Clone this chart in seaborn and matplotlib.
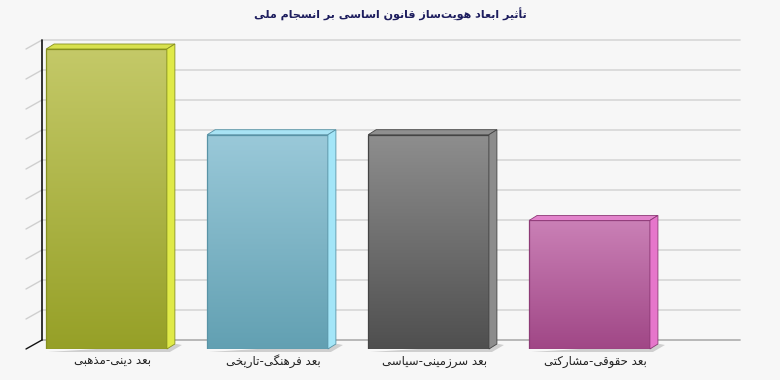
import numpy as np
import matplotlib
matplotlib.use("Agg")
import matplotlib.pyplot as plt
import seaborn as sns
from matplotlib import font_manager, ft2font
from matplotlib.colors import LinearSegmentedColormap
from matplotlib.patches import Polygon
from matplotlib.lines import Line2D
from matplotlib.transforms import IdentityTransform, ScaledTranslation

# ---------------- data ----------------
title = "تأثیر ابعاد هویت‌ساز قانون اساسی بر انسجام ملی"
categories = ["بعد دینی-مذهبی", "بعد فرهنگی-تاریخی", "بعد سرزمینی-سیاسی", "بعد حقوقی-مشارکتی"]
values = [35, 25, 25, 15]
y_max = 35
y_ticks = [i * 3.5 for i in range(11)]

front_top = ["#c4c968", "#9ac9d9", "#8e8e8e", "#ca80b6"]
front_bot = ["#96a027", "#62a0b2", "#4f4f4f", "#a04786"]
edge_cols = ["#86901f", "#5893a6", "#444444", "#8d3a76"]
side_cols = ["#e0ea48", "#a4e6f8", "#8c8c8c", "#e676cb"]
top_cols = ["#d8e14e", "#a8e3f4", "#8f8f8f", "#e283cb"]

# ---------------- minimal Arabic/Persian shaping ----------------
FORMS = {
    "\u0627": (0xFE8D, 0xFE8E), "\u0623": (0xFE83, 0xFE84),
    "\u0628": (0xFE8F, 0xFE90, 0xFE91, 0xFE92), "\u062A": (0xFE95, 0xFE96, 0xFE97, 0xFE98),
    "\u062B": (0xFE99, 0xFE9A, 0xFE9B, 0xFE9C), "\u062C": (0xFE9D, 0xFE9E, 0xFE9F, 0xFEA0),
    "\u062D": (0xFEA1, 0xFEA2, 0xFEA3, 0xFEA4), "\u062E": (0xFEA5, 0xFEA6, 0xFEA7, 0xFEA8),
    "\u062F": (0xFEA9, 0xFEAA), "\u0630": (0xFEAB, 0xFEAC), "\u0631": (0xFEAD, 0xFEAE),
    "\u0632": (0xFEAF, 0xFEB0), "\u0633": (0xFEB1, 0xFEB2, 0xFEB3, 0xFEB4),
    "\u0634": (0xFEB5, 0xFEB6, 0xFEB7, 0xFEB8), "\u0639": (0xFEC9, 0xFECA, 0xFECB, 0xFECC),
    "\u0641": (0xFED1, 0xFED2, 0xFED3, 0xFED4), "\u0642": (0xFED5, 0xFED6, 0xFED7, 0xFED8),
    "\u06A9": (0xFB8E, 0xFB8F, 0xFB90, 0xFB91), "\u06AF": (0xFB92, 0xFB93, 0xFB94, 0xFB95),
    "\u0644": (0xFEDD, 0xFEDE, 0xFEDF, 0xFEE0), "\u0645": (0xFEE1, 0xFEE2, 0xFEE3, 0xFEE4),
    "\u0646": (0xFEE5, 0xFEE6, 0xFEE7, 0xFEE8), "\u0647": (0xFEE9, 0xFEEA, 0xFEEB, 0xFEEC),
    "\u0648": (0xFEED, 0xFEEE), "\u06CC": (0xFBFC, 0xFBFD, 0xFBFE, 0xFBFF),
}
FALLBACK = {"\u06CC": (0xFEEF, 0xFEF0, 0xFEF3, 0xFEF4), "\u06A9": (0xFED9, 0xFEDA, 0xFEDB, 0xFEDC)}
LAM_ALEF = {"\u0627": (0xFEFB, 0xFEFC), "\u0623": (0xFEF7, 0xFEF8)}

def _charmap(bold):
    try:
        p = font_manager.findfont(font_manager.FontProperties(family="DejaVu Sans",
                                                               weight="bold" if bold else "normal"))
        return ft2font.FT2Font(p).get_charmap()
    except Exception:
        return {}

def shape(text, bold=False):
    cmap = _charmap(bold)
    forms = dict(FORMS)
    for k, v in FALLBACK.items():
        if cmap and any(c not in cmap for c in forms[k]):
            forms[k] = v
    out = []
    i, n = 0, len(text)
    while i < n:
        ch = text[i]
        prev = text[i - 1] if i > 0 else ""
        nxt = text[i + 1] if i + 1 < n else ""
        cp = prev in forms and len(forms[prev]) == 4
        if ch == "\u0644" and nxt in LAM_ALEF:
            out.append(chr(LAM_ALEF[nxt][1 if cp else 0]))
            i += 2
            continue
        if ch in forms:
            f = forms[ch]
            cn = len(f) == 4 and nxt in forms
            if cp and cn:
                g = f[3]
            elif cp:
                g = f[1]
            elif cn:
                g = f[2]
            else:
                g = f[0]
            out.append(chr(g))
        elif ch == "\u200c":
            pass
        else:
            out.append(ch)
        i += 1
    return "".join(reversed(out))

# ---------------- figure ----------------
sns.set_theme(style="white")
plt.rcParams["font.family"] = ["DejaVu Sans"]
bg = "#f7f7f7"
fig = plt.figure(figsize=(7.8, 3.8), dpi=100, facecolor=bg)
W, H = 780, 380
ax = fig.add_axes([26 / W, 31 / H, 698 / W, 300 / H])
ax.set_facecolor("none")

sns.barplot(x=categories, y=values, hue=categories, palette=front_top, legend=False,
            width=0.75, saturation=1, ax=ax)
xlim = (-0.5, 3.835)
ax.set_xlim(*xlim)
ax.set_ylim(0, y_max)
for s in ax.spines.values():
    s.set_visible(False)
ax.set_yticks([])
ax.set_xticks([])

WX, WY = 16, 9   # wall depth in pixels
BX, BY = 8, 5    # bar depth in pixels
T = ax.transData
ident = IdentityTransform()

def disp(x, y):
    return np.array(T.transform((x, y)))

def seg(p, q, **kw):
    ln = Line2D([p[0], q[0]], [p[1], q[1]], transform=ident, clip_on=False, **kw)
    ax.add_artist(ln)

# back wall grid and side ticks
for v in y_ticks:
    f = disp(xlim[0], v)
    b = f + [WX, WY]
    e = disp(xlim[1], v) + [WX, WY]
    col = "#b3b3b3" if v == 0 else "#dadada"
    seg(b, e, color=col, lw=1.3, zorder=0.5)
    seg(f, b, color="#111111" if v == 0 else "#cfcfcf", lw=1.0, zorder=0.6)
seg(disp(xlim[0], 0) + [WX, WY], disp(xlim[0], y_max) + [WX, WY], color="#111111", lw=1.2, zorder=0.7)

# bars: gradient front, top, side, shadow
for i, p in enumerate(ax.patches):
    x, y, w, h = p.get_x(), p.get_y(), p.get_width(), p.get_height()
    cm = LinearSegmentedColormap.from_list(f"g{i}", [front_bot[i], front_top[i]])
    grad = np.linspace(0, 1, 256).reshape(-1, 1)
    im = ax.imshow(grad, extent=(x, x + w, y, y + h), origin="lower", aspect="auto",
                   cmap=cm, zorder=2.5, interpolation="bicubic")
    im.set_clip_path(p)
    p.set_facecolor("none")
    p.set_edgecolor(edge_cols[i])
    p.set_linewidth(0.9)
    p.set_zorder(3)

    bl, br = disp(x, y), disp(x + w, y)
    tl, tr = disp(x, y + h), disp(x + w, y + h)
    d = np.array([BX, BY])
    for poly, fc, ec, z in [
        ([bl + [2, -3], br + [3, -3], br + d + [7, -1], br + d + [2, 0]], "#cfcfcf", "none", 1.8),
        ([tl, tr, tr + d, tl + d], top_cols[i], edge_cols[i], 3.1),
        ([br, tr, tr + d, br + d], side_cols[i], edge_cols[i], 3.1),
    ]:
        pg = Polygon(poly, closed=True, transform=ident, facecolor=fc, edgecolor=ec,
                     lw=0.6, zorder=z, clip_on=False)
        ax.add_artist(pg)

ax.set_xlim(*xlim)
ax.set_ylim(0, y_max)

# category labels (baseline aligned, shifted by half the bar depth)
lab_tr = ax.get_xaxis_transform() + ScaledTranslation(6 / 100, 0, fig.dpi_scale_trans)
for i, c in enumerate(categories):
    ax.text(i, -0.052, shape(c), transform=lab_tr, ha="center", va="baseline",
            fontsize=8.5, color="#222222")

fig.text(390 / W, 1 - 19 / H, shape(title, bold=True), ha="center", va="baseline",
         fontsize=8, fontweight="bold", color="#1d1d5e")

fig.savefig("out.png", dpi=100, facecolor=bg)
